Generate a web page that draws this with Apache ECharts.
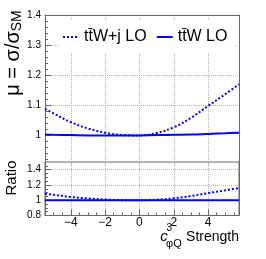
<!DOCTYPE html>
<html><head><meta charset="utf-8">
<script src="https://cdn.jsdelivr.net/npm/echarts@6/dist/echarts.min.js"></script>
<style>html,body{margin:0;padding:0;background:#fff}#c{width:266px;height:259px}</style>
</head><body><div id="c"></div>
<script>
// ---- data ----
const xVals      = [-5.5, -5, -4, -3, -2, -1, 0, 1, 2, 3, 4, 5, 5.8];
const muTTWj     = [1.088, 1.073, 1.044, 1.023, 1.009, 1.001, 1.000, 1.008, 1.027, 1.058, 1.098, 1.137, 1.170];
const muTTW      = [1.003, 1.002, 1.001, 1.000, 1.000, 0.9995, 1.000, 1.001, 1.002, 1.003, 1.005, 1.007, 1.009];
const ratioTTWj  = [1.085, 1.071, 1.043, 1.023, 1.009, 1.001, 1.000, 1.007, 1.025, 1.055, 1.093, 1.129, 1.160];
const ratioTTW   = [1.000, 1.000, 1.000, 1.000, 1.000, 1.000, 1.000, 1.000, 1.000, 1.000, 1.000, 1.000, 1.000];
const xTicks     = [-4, -2, 0, 2, 4];
const yTicksTop  = [1, 1.1, 1.2, 1.3, 1.4];
const yTicksRat  = [0.8, 1, 1.2, 1.4];
const seriesNames = ['tt\u0304W+j LO', 'tt\u0304W LO'];

const pair = (xs, ys) => xs.map((x, i) => [x, ys[i]]);
const FONT = 'Liberation Sans, Arial, Helvetica, sans-serif';
const FRAME = '#666';
const GRIDC = '#b0b0b0';
const BLUE = '#0000ff';
const T = 'rgba(0,0,0,0)';
const fmtY = v => (Math.abs(v - 1) < 1e-9 ? '1' : (+v).toFixed(1));
const fmtX = v => (v < 0 ? '\u2212' + Math.abs(v) : String(v));

const xBase = {type: 'value', min: -5.5, max: 5.8, interval: 0.5};
const none = {axisLine:{show:false}, axisTick:{show:false}, axisLabel:{show:false}, splitLine:{show:false}};

const chart = echarts.init(document.getElementById('c'), null, {renderer: 'canvas'});
chart.setOption({
  animation: false,
  backgroundColor: '#fff',
  textStyle: {fontFamily: FONT},
  grid: [
    {left: 45, right: 27, top: 15, height: 150.5, show: false},
    {left: 45, right: 27, top: 162, height: 53.5, show: true, borderColor: FRAME, borderWidth: 1, backgroundColor: 'transparent'}
  ],
  legend: {
    data: seriesNames,
    left: 58, top: 21,
    padding: [8, 8, 7, 4],
    backgroundColor: '#fff',
    itemWidth: 16, itemHeight: 14, itemGap: 9,
    itemStyle: {opacity: 0},
    textStyle: {fontSize: 16, fontFamily: FONT, color: '#000'}
  },
  xAxis: [
    Object.assign({}, xBase, none, {gridIndex: 0, position: 'bottom',
      splitLine: {show: true, lineStyle: {color: [T, T, T, GRIDC], type: 'dotted', width: 1}}}),
    Object.assign({}, xBase, none, {gridIndex: 0, position: 'top',
      axisLine: {show: true, onZero: false, lineStyle: {color: FRAME, width: 1}}}),
    Object.assign({}, xBase, none, {gridIndex: 1, position: 'bottom',
      axisLine: {show: true, onZero: false, lineStyle: {color: FRAME, width: 1}},
      axisTick: {show: true, inside: true, length: 3, lineStyle: {color: FRAME}},
      splitLine: {show: true, lineStyle: {color: [T, T, T, GRIDC], type: 'dotted', width: 1}}}),
    Object.assign({}, xBase, none, {gridIndex: 1, position: 'bottom',
      axisTick: {show: true, inside: true, length: 6, customValues: xTicks, lineStyle: {color: FRAME}},
      axisLabel: {show: true, customValues: xTicks, formatter: fmtX, fontSize: 12, margin: 1, color: '#000', fontFamily: FONT}})
  ],
  yAxis: [
    {type: 'value', gridIndex: 0, position: 'left', min: 0.9, max: 1.4, interval: 0.1,
      axisLine: {show: true, onZero: false, lineStyle: {color: FRAME, width: 1}},
      axisTick: {show: true, inside: true, length: 6, customValues: yTicksTop, lineStyle: {color: FRAME}},
      minorTick: {show: true, splitNumber: 5, length: 3, lineStyle: {color: FRAME}},
      axisLabel: {show: true, customValues: yTicksTop, formatter: fmtY, fontSize: 10, margin: 4, color: '#000', fontFamily: FONT},
      splitLine: {show: false}},
    {type: 'value', gridIndex: 0, position: 'right', min: 0.9, max: 1.4, interval: 0.1,
      axisLine: {show: true, onZero: false, lineStyle: {color: FRAME, width: 1}},
      axisTick: {show: false}, axisLabel: {show: false},
      splitLine: {show: true, showMinLine: false, lineStyle: {color: [T, GRIDC, GRIDC, GRIDC, GRIDC, GRIDC], type: 'dotted', width: 1}}},
    {type: 'value', gridIndex: 1, position: 'left', min: 0.8, max: 1.5, interval: 0.2,
      axisLine: {show: true, onZero: false, lineStyle: {color: FRAME, width: 1}},
      axisTick: {show: true, inside: true, length: 6, customValues: yTicksRat, lineStyle: {color: FRAME}},
      minorTick: {show: true, splitNumber: 4, length: 3, lineStyle: {color: FRAME}},
      axisLabel: {show: true, customValues: yTicksRat, formatter: fmtY, fontSize: 10, margin: 4, color: '#000', fontFamily: FONT},
      splitLine: {show: true, lineStyle: {color: GRIDC, type: 'dotted', width: 1}}},
    {type: 'value', gridIndex: 1, position: 'right', min: 0.8, max: 1.5, interval: 0.2,
      axisLine: {show: true, onZero: false, lineStyle: {color: FRAME, width: 1}},
      axisTick: {show: false}, axisLabel: {show: false}, splitLine: {show: false}}
  ],
  series: [
    {name: seriesNames[0], type: 'line', xAxisIndex: 0, yAxisIndex: 0, data: pair(xVals, muTTWj),
      smooth: 0.4, symbol: 'none', showSymbol: false, color: BLUE, lineStyle: {color: BLUE, width: 2, type: [2, 2]}},
    {name: seriesNames[1], type: 'line', xAxisIndex: 0, yAxisIndex: 0, data: pair(xVals, muTTW),
      smooth: 0.4, symbol: 'none', showSymbol: false, color: BLUE, lineStyle: {color: BLUE, width: 2, type: 'solid'}},
    {name: 'ratio ' + seriesNames[0], type: 'line', xAxisIndex: 2, yAxisIndex: 2, data: pair(xVals, ratioTTWj),
      smooth: 0.4, symbol: 'none', showSymbol: false, color: BLUE, lineStyle: {color: BLUE, width: 2, type: [2, 2]}},
    {name: 'ratio ' + seriesNames[1], type: 'line', xAxisIndex: 2, yAxisIndex: 2, data: pair(xVals, ratioTTW),
      smooth: 0.4, symbol: 'none', showSymbol: false, color: BLUE, lineStyle: {color: BLUE, width: 2, type: 'solid'}}
  ],
  graphic: [
    {type: 'text', x: 14, y: 53, rotation: Math.PI / 2,
      style: {text: '{m|\u03bc = \u03c3/\u03c3}{s|SM}', align: 'center', verticalAlign: 'middle',
        rich: {m: {fontSize: 20, lineHeight: 21, verticalAlign: 'top', fontFamily: FONT, fill: '#000'},
               s: {fontSize: 14, lineHeight: 14, padding: [9, 0, 0, 0], verticalAlign: 'bottom', fontFamily: FONT, fill: '#000'}}}},
    {type: 'text', x: 12, y: 178, rotation: Math.PI / 2,
      style: {text: 'Ratio', align: 'center', verticalAlign: 'middle', fontSize: 15, fontFamily: FONT, fill: '#000'}},
    {type: 'text', x: 239, y: 237,
      style: {text: 'Strength', align: 'right', verticalAlign: 'middle', fontSize: 14, fontFamily: FONT, fill: '#000'}},
    {type: 'text', x: 164, y: 237,
      style: {text: 'c', align: 'center', verticalAlign: 'middle', fontSize: 15, fontStyle: 'italic', fontFamily: FONT, fill: '#000'}},
    {type: 'text', x: 166.5, y: 228.5,
      style: {text: '3', align: 'left', verticalAlign: 'middle', fontSize: 10, fontFamily: FONT, fill: '#000'}},
    {type: 'text', x: 166, y: 244,
      style: {text: '\u03c6Q', align: 'left', verticalAlign: 'middle', fontSize: 11, fontFamily: FONT, fill: '#000'}}
  ]
});
</script>
</body></html>
